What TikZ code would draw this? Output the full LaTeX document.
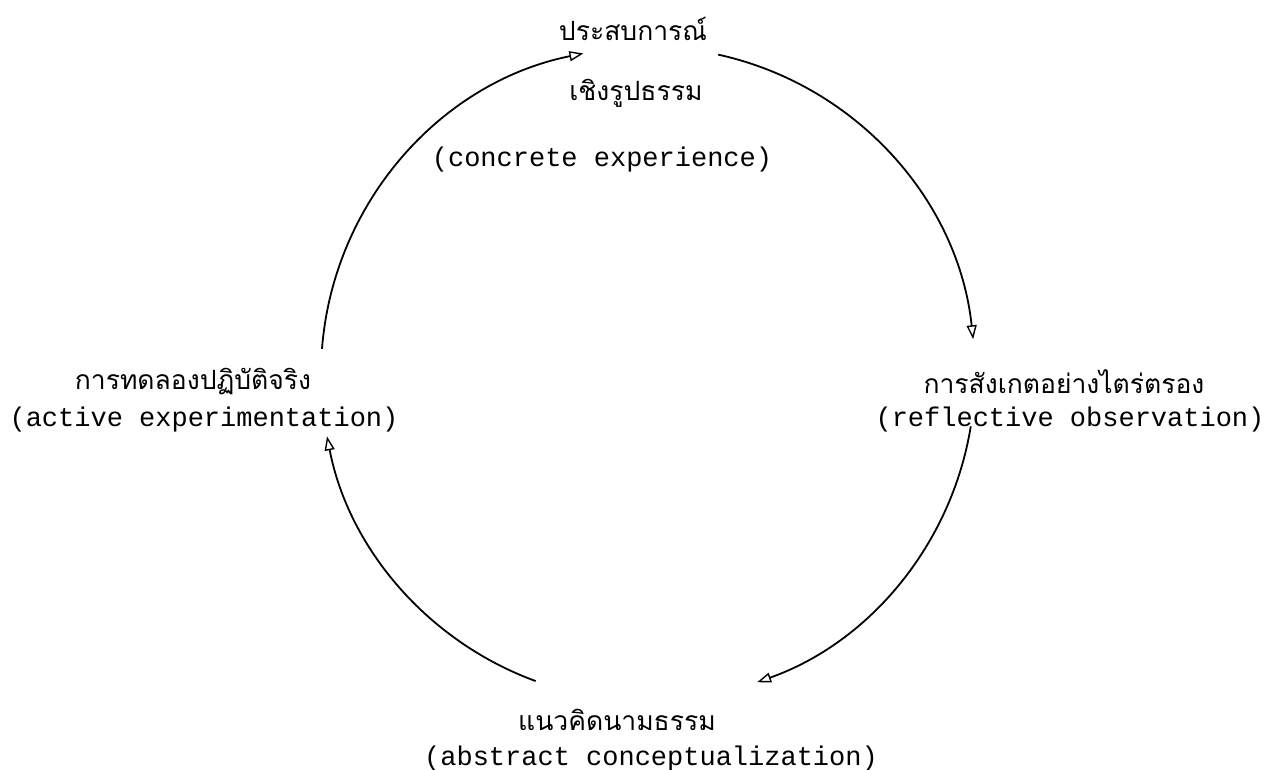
\documentclass[tikz,border=0pt]{standalone}
\usepackage{fontspec}
\setmonofont{Liberation Mono}
\newfontfamily\thaifont[Script=Thai]{Loma}
\usetikzlibrary{arrows.meta,calc}
\tikzset{
  thai/.style={font=\thaifont\fontsize{26.5}{30}\selectfont, inner sep=0pt, anchor=center},
  eng/.style={font=\ttfamily\fontsize{27}{30}\selectfont, inner sep=0pt, anchor=center},
  cyc/.style={line width=1.8pt, -{Triangle[open,length=14pt,width=10pt,line width=1.4pt]}}
}
\begin{document}
\begin{tikzpicture}[x=1pt,y=1pt]
\useasboundingbox (0,0) rectangle (1264,770);
% texts (y = 770 - pixel row)
\node[thai] (ceA) at (633,741) {ประสบการณ์};
\node[thai] (ceB) at (636,677) {เชิงรูปธรรม};
\node[eng]  (ceC) at (602,610) {(concrete experience)};
\node[thai] (roA) at (1064,388) {การสังเกตอย่างไตร่ตรอง};
\node[eng]  (roB) at (1070,350) {(reflective observation)};
\node[thai] (acA) at (617,50) {แนวคิดนามธรรม};
\node[eng]  (acB) at (651,11) {(abstract conceptualization)};
\node[thai] (aeA) at (193,388) {การทดลองปฏิบัติจริง};
\node[eng]  (aeB) at (204,350) {(active experimentation)};
% cycle
\coordinate (c) at (648,396);
\coordinate (a1) at ($(c)+(175.6:327)$);
\coordinate (a2) at ($(c)+(77.6:327)$);
\coordinate (a3) at ($(c)+(-9.2:327)$);
\coordinate (a4) at ($(c)+(-110.1:327)$);
\draw[cyc] (a1) arc[start angle=175.6, end angle=101.4, radius=327];
\draw[cyc] (a2) arc[start angle=77.6, end angle=6.1, radius=327];
\draw[cyc] (a3) arc[start angle=-9.2, end angle=-70.5, radius=327];
\draw[cyc] (a4) arc[start angle=-110.1, end angle=-169, radius=327];
\end{tikzpicture}
\end{document}
